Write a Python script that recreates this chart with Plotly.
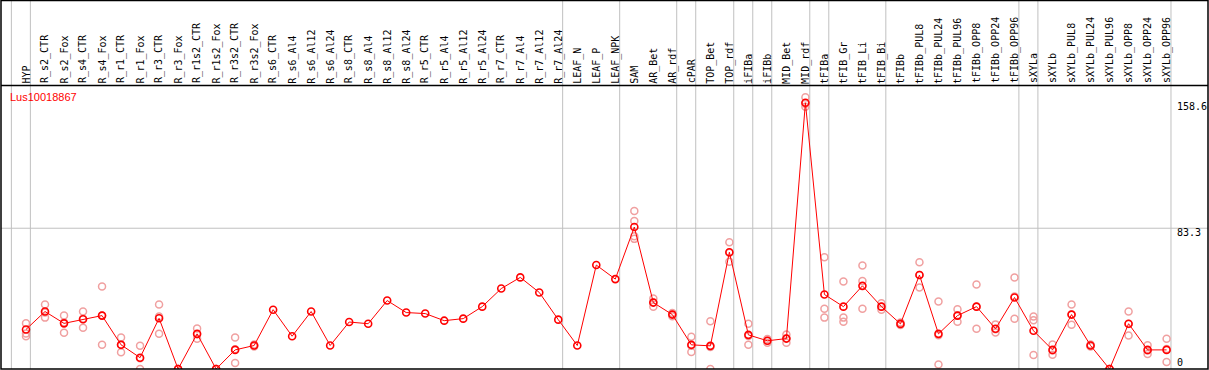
import plotly.graph_objects as go

categories = [
    "HYP", "R_s2_CTR", "R_s2_Fox", "R_s4_CTR", "R_s4_Fox", "R_r1_CTR", "R_r1_Fox",
    "R_r3_CTR", "R_r3_Fox", "R_r1s2_CTR", "R_r1s2_Fox", "R_r3s2_CTR", "R_r3s2_Fox",
    "R_s6_CTR", "R_s6_Al4", "R_s6_Al12", "R_s6_Al24", "R_s8_CTR", "R_s8_Al4",
    "R_s8_Al12", "R_s8_Al24", "R_r5_CTR", "R_r5_Al4", "R_r5_Al12", "R_r5_Al24",
    "R_r7_CTR", "R_r7_Al4", "R_r7_Al12", "R_r7_Al24", "LEAF_N", "LEAF_P", "LEAF_NPK",
    "SAM", "AR_Bet", "AR_rdf", "cPAR", "TOP_Bet", "TOP_rdf", "iFIBa", "iFIBb",
    "MID_Bet", "MID_rdf", "tFIBa", "tFIB_Gr", "tFIB_Li", "tFIB_Bi", "tFIBb",
    "tFIBb_PUL8", "tFIBb_PUL24", "tFIBb_PUL96", "tFIBb_OPP8", "tFIBb_OPP24",
    "tFIBb_OPP96", "sXYLa", "sXYLb", "sXYLb_PUL8", "sXYLb_PUL24", "sXYLb_PUL96",
    "sXYLb_OPP8", "sXYLb_OPP24", "sXYLb_OPP96",
]

mean_values = [
    23.4, 34.0, 27.0, 29.4, 31.6, 14.3, 6.7, 30.0, 0.0, 20.8, 0.0, 11.3, 13.9,
    35.1, 19.4, 34.0, 13.9, 27.8, 26.8, 40.5, 33.4, 32.8, 28.6, 29.8, 36.9,
    47.6, 54.2, 45.3, 29.2, 13.9, 61.5, 53.2,
    84.0, 39.3, 32.2, 14.3, 13.7, 69.1, 20.2, 16.7, 18.0, 157.5,
    44.1, 36.9, 49.2, 36.9, 26.7, 55.6, 20.8, 31.6, 36.9, 23.8, 42.3,
    22.6, 11.3, 32.2, 13.9, 0.0, 26.8, 11.3, 11.3,
]

replicate_values = [
    [27.0, 21.0, 19.4], [38.1, 33.5, 30.4], [31.6, 21.4, 27.5], [34.0, 24.4, 29.8],
    [48.8, 14.3, 31.6], [18.6, 9.9, 14.4], [13.7, 0.0, 6.4], [38.1, 20.8, 31.0],
    [0.0, 0.0, 0.0], [24.0, 17.9, 20.5], [0.0, 0.0, 0.0], [18.6, 3.6, 11.7],
    [14.5, 13.3, 13.9],
    [], [], [], [], [], [], [], [], [], [], [], [], [], [], [], [], [], [], [],
    [93.5, 87.6, 78.6, 77.0], [41.7, 36.9, 39.3], [33.2, 31.2, 32.2],
    [19.1, 10.1, 13.7], [28.2, 0.0, 13.0], [75.0, 63.5, 68.8], [26.8, 14.3, 19.5],
    [17.8, 15.6, 16.7], [20.4, 15.5, 18.0], [160.8, 155.2, 157.0],
    [66.1, 35.7, 30.4], [51.8, 30.4, 28.0], [61.3, 52.0, 35.7], [38.9, 35.0, 36.8],
    [27.5, 26.0, 26.7], [63.1, 48.2, 55.6], [39.9, 2.6, 20.0], [35.3, 28.0, 31.6],
    [50.0, 23.8, 36.9], [26.4, 21.6, 23.5], [54.2, 29.8, 42.9],
    [31.0, 28.9, 8.3], [14.5, 8.5, 11.0], [38.1, 26.2, 32.3], [14.5, 13.3, 13.9],
    [0.0, 0.0, 0.0], [34.0, 19.8, 26.6], [14.1, 8.9, 11.0], [17.9, 4.2, 11.8],
]

# last category of each group (a grey separator follows it)
group_ends = ["HYP", "R_r7_Al24", "LEAF_NPK", "AR_rdf", "cPAR", "TOP_rdf", "iFIBa",
              "iFIBb", "MID_rdf", "tFIBa", "tFIB_Bi", "tFIBb_OPP96", "sXYLa", "sXYLb_OPP96"]

gene_name = "Lus10018867"
y_tick_values = [0, 83.3, 158.6]
y_tick_labels = ["0", "83.3", "158.6"]

# ---------------- layout geometry ----------------
W, H = 1209, 370
ML, MR, MT, MB = 1, 1, 1, 1
PW, PH = W - ML - MR, H - MT - MB
X0PX, XSTEP = 26.0, 19.01          # pixel of first category, spacing
YSCALE = 1.69                      # pixels per unit
BOTTOM_PX = H - MB


def px_to_paper_x(px):
    return (px - ML) / PW


def px_to_paper_y(py):
    return (BOTTOM_PX - py) / PH


x_range = [(ML - X0PX) / XSTEP, (ML + PW - X0PX) / XSTEP]
y_range = [0, PH / YSCALE]

rep_x, rep_y = [], []
for c, reps in zip(categories, replicate_values):
    for v in reps:
        rep_x.append(c)
        rep_y.append(v)

fig = go.Figure()
fig.add_trace(go.Scatter(
    x=rep_x, y=rep_y, mode="markers",
    marker=dict(symbol="circle-open", size=7, color="#f0a0a0", line=dict(width=1.5)),
    hoverinfo="skip", showlegend=False,
))
fig.add_trace(go.Scatter(
    x=categories, y=mean_values, mode="lines+markers",
    line=dict(color="#ff0000", width=1),
    marker=dict(symbol="circle-open", size=7, color="#ff0000", line=dict(width=1.6)),
    showlegend=False,
))

shapes = []
# vertical group separators
for name in ["__before__"] + group_ends:
    idx = -1 if name == "__before__" else categories.index(name)
    xv = idx + 0.23
    shapes.append(dict(type="line", xref="x", yref="paper", x0=xv, x1=xv, y0=0,
                       y1=px_to_paper_y(0), line=dict(color="#c0c0c0", width=1), layer="below"))
# horizontal grid at middle tick
shapes.append(dict(type="line", xref="paper", yref="y", x0=0, x1=1, y0=y_tick_values[1],
                   y1=y_tick_values[1], line=dict(color="#c0c0c0", width=1), layer="below"))
# header separator
shapes.append(dict(type="line", xref="paper", yref="paper", x0=0, x1=1,
                   y0=px_to_paper_y(85.5), y1=px_to_paper_y(85.5),
                   line=dict(color="black", width=1.5)))
# border
shapes.append(dict(type="rect", xref="paper", yref="paper", x0=0, x1=1,
                   y0=0, y1=px_to_paper_y(0.5), line=dict(color="black", width=1.5)))

annotations = []
for c in categories:
    annotations.append(dict(
        x=c, xref="x", y=px_to_paper_y(84.5), yref="paper", text=c, showarrow=False,
        textangle=-90, xanchor="center", yanchor="bottom",
        font=dict(family="DejaVu Sans Mono", size=10, color="black"), borderpad=0,
    ))

ylab_px = [362, 232.5, 106.7]
for lab, py in zip(y_tick_labels, ylab_px):
    annotations.append(dict(
        x=px_to_paper_x(1176), xref="paper", y=px_to_paper_y(py), yref="paper", text=lab,
        showarrow=False, xanchor="left", yanchor="middle",
        font=dict(family="DejaVu Sans Mono", size=10, color="black"), borderpad=0,
    ))

annotations.append(dict(
    x=px_to_paper_x(9), xref="paper", y=px_to_paper_y(97), yref="paper", text=gene_name,
    showarrow=False, xanchor="left", yanchor="middle",
    font=dict(family="Liberation Sans", size=11, color="#ff0000"), borderpad=0,
))

fig.update_layout(
    width=W, height=H,
    margin=dict(l=ML, r=MR, t=MT, b=MB, pad=0),
    paper_bgcolor="white", plot_bgcolor="white",
    xaxis=dict(type="category", categoryorder="array", categoryarray=categories,
               range=x_range, showgrid=False, zeroline=False,
               showticklabels=False, ticks="", showline=False, fixedrange=True),
    yaxis=dict(range=y_range, showgrid=False, zeroline=False, showticklabels=False,
               ticks="", showline=False, fixedrange=True),
    shapes=shapes, annotations=annotations, showlegend=False,
)

fig.write_html(
    "out.html",
    config={"displayModeBar": False},
    post_script="document.body.style.margin='0';document.body.style.overflow='hidden';",
)
